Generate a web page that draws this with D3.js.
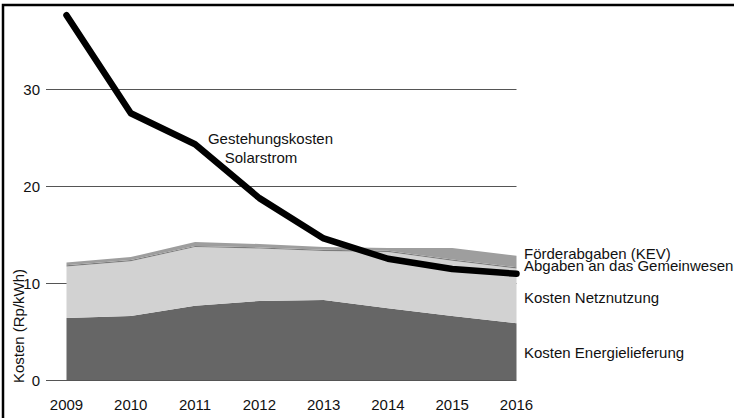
<!DOCTYPE html>
<html>
<head>
<meta charset="utf-8">
<script src="https://cdn.jsdelivr.net/npm/d3@7"></script>
<style>
  body { margin: 0; background: #fff; }
  svg { display: block; font-family: "Liberation Sans", Arial, sans-serif; }
</style>
</head>
<body>
<div id="chart"></div>
<script>
const years = [2009, 2010, 2011, 2012, 2013, 2014, 2015, 2016];
const energie = [6.4, 6.6, 7.65, 8.15, 8.25, 7.4, 6.6, 5.85];
const netz = [5.3, 5.65, 6.05, 5.4, 5.05, 5.8, 5.7, 5.65];
const abgaben = [0.12, 0.12, 0.12, 0.12, 0.12, 0.12, 0.12, 0.12];
const foerder = [0.3, 0.3, 0.4, 0.35, 0.3, 0.3, 1.18, 1.18];
const solar = [37.6, 27.5, 24.3, 18.75, 14.6, 12.5, 11.45, 10.95];
const yTicks = [0, 10, 20, 30];

const layerKeys = ["energie", "netz", "abgaben", "foerder"];
const layerColors = { energie: "#666666", netz: "#d2d2d2", abgaben: "#7c7c7c", foerder: "#9e9e9e" };
const layerLabels = [
  { key: "foerder", text: "Förderabgaben (KEV)", y: 259 },
  { key: "abgaben", text: "Abgaben an das Gemeinwesen", y: 271 },
  { key: "netz", text: "Kosten Netznutzung", y: 303 },
  { key: "energie", text: "Kosten Energielieferung", y: 358 }
];

const width = 734;
const height = 418;
const fontSize = 15;

const rows = years.map((year, i) => ({
  year,
  energie: energie[i],
  netz: netz[i],
  abgaben: abgaben[i],
  foerder: foerder[i]
}));

const x = d3.scaleLinear().domain([2009, 2016]).range([66.5, 516.5]);
const y = d3.scaleLinear().domain([0, 30]).range([380, 89]);

const svg = d3.select("#chart")
  .append("svg")
  .attr("width", width)
  .attr("height", height);

svg.append("rect")
  .attr("x", 3)
  .attr("y", 5)
  .attr("width", 760)
  .attr("height", 440)
  .attr("fill", "none")
  .attr("stroke", "#000")
  .attr("stroke-width", 2.5);

// grid lines + y tick labels
const grid = svg.append("g");
grid.selectAll("line")
  .data(yTicks)
  .join("line")
  .attr("x1", 46)
  .attr("x2", x(2016))
  .attr("y1", (d) => y(d) + 0.5)
  .attr("y2", (d) => y(d) + 0.5)
  .attr("stroke", "#555")
  .attr("stroke-width", 1);

grid.selectAll("text")
  .data(yTicks)
  .join("text")
  .attr("x", 40)
  .attr("y", (d) => y(d) + 5.5)
  .attr("text-anchor", "end")
  .attr("font-size", fontSize)
  .attr("fill", "#111")
  .text((d) => d);

// stacked areas
const stack = d3.stack().keys(layerKeys);
const series = stack(rows);

const area = d3.area()
  .x((d) => x(d.data.year))
  .y0((d) => y(d[0]))
  .y1((d) => y(d[1]));

svg.append("g")
  .selectAll("path")
  .data(series)
  .join("path")
  .attr("fill", (s) => layerColors[s.key])
  .attr("d", area);

// solar line
const line = d3.line()
  .x((d, i) => x(years[i]))
  .y((d) => y(d));

svg.append("path")
  .datum(solar)
  .attr("fill", "none")
  .attr("stroke", "#000")
  .attr("stroke-width", 6.5)
  .attr("stroke-linejoin", "round")
  .attr("stroke-linecap", "round")
  .attr("d", line);

// x axis labels
svg.append("g")
  .selectAll("text")
  .data(years)
  .join("text")
  .attr("x", (d) => x(d))
  .attr("y", 410)
  .attr("text-anchor", "middle")
  .attr("font-size", fontSize)
  .attr("fill", "#111")
  .text((d) => d);

// y axis title
svg.append("text")
  .attr("transform", "translate(24,326) rotate(-90)")
  .attr("text-anchor", "middle")
  .attr("font-size", fontSize)
  .attr("fill", "#111")
  .text("Kosten (Rp/kWh)");

// layer labels at right
svg.append("g")
  .selectAll("text")
  .data(layerLabels)
  .join("text")
  .attr("x", 524)
  .attr("y", (d) => d.y)
  .attr("font-size", fontSize)
  .attr("fill", "#111")
  .text((d) => d.text);

// solar label
svg.append("text")
  .attr("x", 270.5)
  .attr("y", 144)
  .attr("text-anchor", "middle")
  .attr("font-size", fontSize)
  .attr("fill", "#111")
  .text("Gestehungskosten");

svg.append("text")
  .attr("x", 261)
  .attr("y", 163)
  .attr("text-anchor", "middle")
  .attr("font-size", fontSize)
  .attr("fill", "#111")
  .text("Solarstrom");
</script>
</body>
</html>
